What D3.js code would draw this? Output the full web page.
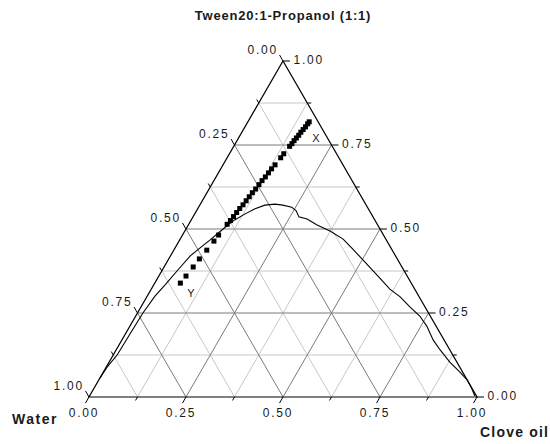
<!DOCTYPE html>
<html>
<head>
<meta charset="utf-8">
<script src="https://cdn.jsdelivr.net/npm/d3@7"></script>
<style>
	body { margin: 0; background: #fff; }
	text { font-family: Arial, "Liberation Sans", sans-serif; fill: #1a1a1a; }
</style>
</head>
<body>
<script>

const title = 'Tween20:1-Propanol (1:1)';
const waterName = 'Water';
const oilName = 'Clove oil';

const tickValues = [0, 0.25, 0.5, 0.75, 1];
const tickLabels = ['0.00', '0.25', '0.50', '0.75', '1.00'];
const gridSteps = [0, 0.125, 0.25, 0.375, 0.5, 0.625, 0.75, 0.875, 1];

// water titration points, X (top) -> Y (bottom), in %
const pointWater = [2.3, 3, 4, 5, 6, 7, 8, 9, 10, 11, 13.6, 15, 17.5, 19, 20.4, 21.8, 23.2, 24.6,
	26.1, 27.5, 28.9, 30.3, 31.7, 33.1, 34.5, 35.9, 37.3, 38.7, 42.5, 44.6, 47.8, 51.0, 53.8, 57.0, 59.5];
const pointOil = [15.8, 15.7, 15.6, 15.4, 15.2, 15.1, 14.9, 14.7, 14.6, 14.4, 14.0, 13.8, 13.4, 13.1, 12.9, 12.7, 12.4, 12.2,
	12.0, 11.7, 11.5, 11.3, 11.1, 10.8, 10.6, 10.4, 10.2, 9.9, 9.3, 9.0, 8.5, 7.9, 7.5, 7.0, 6.6];
const pointNames = ['X', 'Y'];

// phase boundary, in %
const curveOil = [0.0, 0.2, 1.0, 1.2, 1.4, 2.0, 2.9, 4.0, 5.1, 6.4, 7.8, 9.4, 10.9, 13.0, 14.8, 16.8, 19.2, 21.4, 24.0, 25.7,
	27.3, 29.7, 33.2, 37.4, 42.0, 46.0, 50.2, 56.1, 61.5, 65.3, 69.3, 73.2, 76.5, 80.2, 83.5, 87.8, 91.9, 94.9, 97.5, 99.3];
const curveSmix = [5.7, 8.9, 12.5, 18.8, 25.0, 30.1, 33.3, 37.8, 42.0, 44.3, 46.7, 49.7, 52.4, 54.5, 56.0, 57.1, 57.4, 57.1, 56.5, 55.4,
	53.6, 53.0, 51.2, 49.4, 47.0, 44.0, 40.8, 36.3, 32.1, 29.8, 26.8, 24.1, 21.1, 17.0, 14.0, 10.4, 7.4, 5.1, 2.4, 0.3];


const width = 550;
const height = 444;

const xScale = d3.scaleLinear().domain([0, 1]).range([89, 477]);
const yScale = d3.scaleLinear().domain([0, 1]).range([397, 61]);

// (water, oil, smix) fractions -> [x, y]
function proj(w, o, s) {
	return [xScale(o + s / 2), yScale(s)];
}

const svg = d3.select('body')
	.append('svg')
	.attr('width', width)
	.attr('height', height);

svg.append('text')
	.attr('x', 283)
	.attr('y', 20)
	.attr('text-anchor', 'middle')
	.style('font-size', '13px')
	.style('font-weight', 'bold')
	.style('letter-spacing', '0.8px')
	.text(title);

// grid
const inner = gridSteps.filter(v => v > 0 && v < 1);
const gridLines = [];
inner.forEach(v => {
	const major = v % 0.25 === 0;
	gridLines.push({ a: proj(1 - v, 0, v), b: proj(0, 1 - v, v), major });
	gridLines.push({ a: proj(v, 0, 1 - v), b: proj(v, 1 - v, 0), major });
	gridLines.push({ a: proj(0, v, 1 - v), b: proj(1 - v, v, 0), major });
});

svg.append('g')
	.selectAll('line')
	.data(gridLines.sort((a, b) => a.major - b.major))
	.enter()
	.append('line')
	.attr('x1', d => d.a[0]).attr('y1', d => d.a[1])
	.attr('x2', d => d.b[0]).attr('y2', d => d.b[1])
	.attr('stroke', d => d.major ? '#7a7a7a' : '#c8c8c8')
	.attr('stroke-width', 1);

// frame
const corners = [proj(1, 0, 0), proj(0, 1, 0), proj(0, 0, 1)];
svg.append('path')
	.attr('d', 'M' + corners.join('L') + 'Z')
	.attr('fill', 'none')
	.attr('stroke', '#000')
	.attr('stroke-width', 1.2);

// ticks
const ticks = [];
gridSteps.forEach(v => {
	const len = v % 0.25 === 0 ? 7 : 4;
	ticks.push({ p: proj(0, 1 - v, v), dx: len, dy: 0 });
	ticks.push({ p: proj(v, 0, 1 - v), dx: -0.5 * len, dy: -0.866 * len });
	ticks.push({ p: proj(1 - v, v, 0), dx: -0.5 * len, dy: 0.866 * len });
});

svg.append('g')
	.selectAll('line')
	.data(ticks)
	.enter()
	.append('line')
	.attr('x1', d => d.p[0]).attr('y1', d => d.p[1])
	.attr('x2', d => d.p[0] + d.dx).attr('y2', d => d.p[1] + d.dy)
	.attr('stroke', '#000')
	.attr('stroke-width', 1);

// tick labels
const labelStyle = sel => sel.style('font-size', '12px').style('letter-spacing', '1.8px');

svg.append('g').selectAll('text')
	.data(tickValues)
	.enter()
	.append('text')
	.call(labelStyle)
	.attr('x', (d, i) => proj(0, 1 - d, d)[0] + 10.5)
	.attr('y', (d, i) => proj(0, 1 - d, d)[1] + 3)
	.text((d, i) => tickLabels[i]);

svg.append('g').selectAll('text')
	.data(tickValues)
	.enter()
	.append('text')
	.call(labelStyle)
	.attr('text-anchor', 'end')
	.attr('x', d => proj(d, 0, 1 - d)[0] - 5)
	.attr('y', d => proj(d, 0, 1 - d)[1] - 7)
	.text((d, i) => tickLabels[i]);

svg.append('g').selectAll('text')
	.data(tickValues)
	.enter()
	.append('text')
	.call(labelStyle)
	.attr('text-anchor', 'middle')
	.attr('x', d => proj(1 - d, d, 0)[0] - 5)
	.attr('y', d => proj(1 - d, d, 0)[1] + 20)
	.text((d, i) => tickLabels[i]);

// axis names
svg.append('text')
	.attr('x', 12).attr('y', 424)
	.style('font-size', '14px').style('font-weight', 'bold').style('letter-spacing', '1.5px')
	.text(waterName);

svg.append('text')
	.attr('x', 480).attr('y', 437)
	.style('font-size', '14px').style('font-weight', 'bold').style('letter-spacing', '1.2px')
	.text(oilName);

// boundary curve
const curve = curveOil.map((o, i) => proj((100 - o - curveSmix[i]) / 100, o / 100, curveSmix[i] / 100));
svg.append('path')
	.attr('d', d3.line()(curve))
	.attr('fill', 'none')
	.attr('stroke', '#000')
	.attr('stroke-width', 1.1);

// titration points
const points = pointWater.map((w, i) => proj(w / 100, pointOil[i] / 100, (100 - w - pointOil[i]) / 100));
svg.append('g')
	.selectAll('rect')
	.data(points)
	.enter()
	.append('rect')
	.attr('x', d => d[0] - 2.5)
	.attr('y', d => d[1] - 2.5)
	.attr('width', 5)
	.attr('height', 5)
	.attr('fill', '#000');

const first = points[0];
const last = points[points.length - 1];
svg.append('text')
	.attr('x', first[0] + 3).attr('y', first[1] + 20)
	.style('font-size', '11px')
	.text(pointNames[0]);
svg.append('text')
	.attr('x', last[0] + 7).attr('y', last[1] + 14)
	.style('font-size', '11px')
	.text(pointNames[1]);

</script>
</body>
</html>
